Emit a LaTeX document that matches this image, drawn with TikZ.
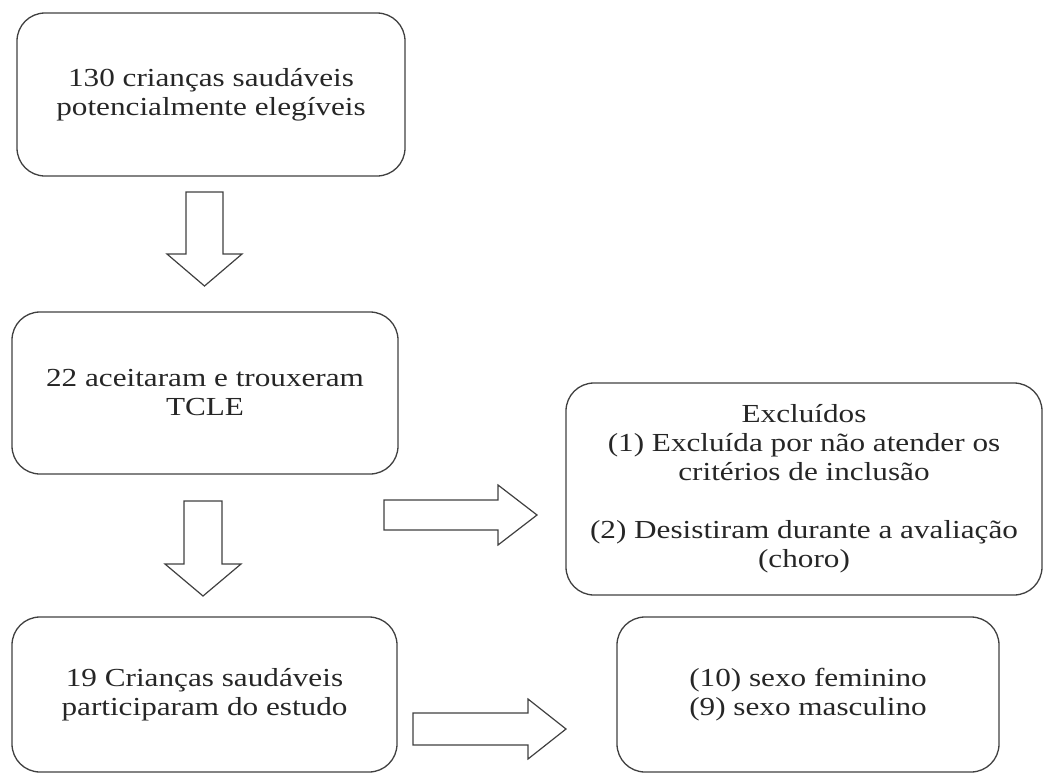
\documentclass[tikz,border=0pt]{standalone}
\usepackage{fontspec}
\setmainfont{Liberation Serif}[FakeStretch=1.2]
\usepackage{tikz}
\usepackage{xcolor}

\definecolor{linegray}{HTML}{404040}
\tikzset{
  box/.style={draw=linegray, line width=1.3pt, rounded corners=28pt, align=center,
    font=\fontsize{26}{29}\selectfont, text=black!85, inner sep=0pt},
  blockarr/.style={draw=linegray, line width=1.2pt, fill=white, line join=miter}
}

\begin{document}
\begin{tikzpicture}[x=1pt, y=-1pt]
  \useasboundingbox (0,0) rectangle (1044,774);
  % caixas do fluxograma
  \node[box, minimum width=388pt, minimum height=163pt] (pot) at (211,94.5) {130 crianças saudáveis\\potencialmente elegíveis};
  \node[box, minimum width=386pt, minimum height=162pt] (tcle) at (205,393) {22 aceitaram e trouxeram\\TCLE};
  \node[box, minimum width=476pt, minimum height=212pt] (excl) at (804,489) {Excluídos\\(1) Excluída por não atender os\\critérios de inclusão\\[29pt](2) Desistiram durante a avaliação\\(choro)};
  \node[box, minimum width=385pt, minimum height=155pt] (part) at (204.5,694.5) {19 Crianças saudáveis\\participaram do estudo};
  \node[box, minimum width=382pt, minimum height=155pt] (sexo) at (808,694.5) {(10) sexo feminino\\(9) sexo masculino};
  % setas
  \draw[blockarr] (186,192) -- (223,192) -- (223,254) -- (242,254) -- (204.5,286) -- (167,254) -- (186,254) -- cycle;
  \draw[blockarr] (184,501) -- (222,501) -- (222,564) -- (241,564) -- (203,596) -- (165,564) -- (184,564) -- cycle;
  \draw[blockarr] (384,500) -- (498,500) -- (498,485) -- (537,515) -- (498,545) -- (498,530) -- (384,530) -- cycle;
  \draw[blockarr] (413,713) -- (528,713) -- (528,699) -- (566,729) -- (528,759) -- (528,745) -- (413,745) -- cycle;
\end{tikzpicture}
\end{document}
